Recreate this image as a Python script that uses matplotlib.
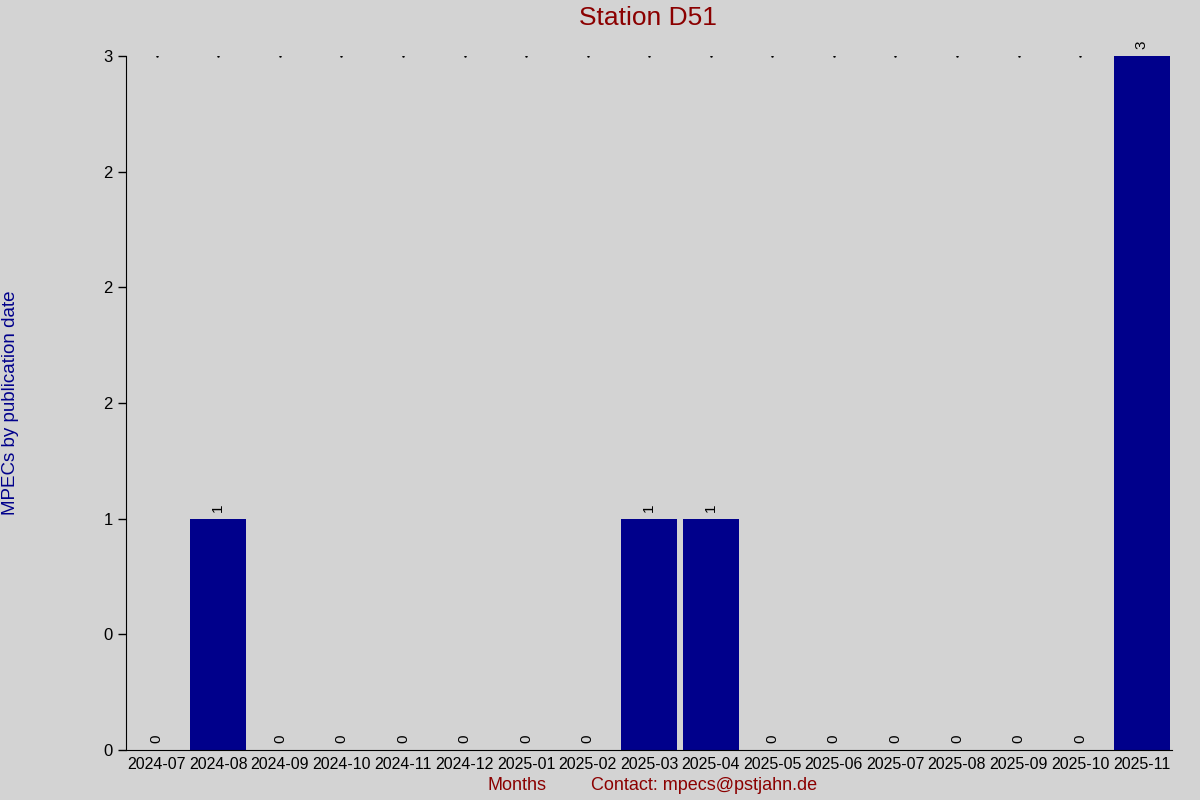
import matplotlib
matplotlib.use('Agg')
import matplotlib.pyplot as plt
import numpy as np

# data
months = ['2024-07', '2024-08', '2024-09', '2024-10', '2024-11', '2024-12',
          '2025-01', '2025-02', '2025-03', '2025-04', '2025-05', '2025-06',
          '2025-07', '2025-08', '2025-09', '2025-10', '2025-11']
counts = [0, 1, 0, 0, 0, 0, 0, 0, 1, 1, 0, 0, 0, 0, 0, 0, 3]
ytick_vals = [0, 0.5, 1, 1.5, 2, 2.5, 3]

plt.rcParams['font.family'] = ['Liberation Sans', 'DejaVu Sans']
bg = '#d3d3d3'

fig = plt.figure(figsize=(12, 8), dpi=100, facecolor=bg)
ax = fig.add_axes([0.105, 0.0625, 0.872, 0.8675], facecolor=bg)

x = np.arange(len(months))
ax.bar(x, counts, width=0.91, color='#00008b')

# tiny dots along the top of the plot
ax.plot(x, [max(counts)] * len(x), linestyle='none', marker='s',
        markersize=0.7, color='black', zorder=0)

for xi, c in zip(x, counts):
    ax.text(xi, c + 0.03, str(c), rotation=90, ha='center', va='bottom',
            fontsize=11)

ax.set_xlim(-0.5, len(months) - 0.5)
ax.set_ylim(0, 3)
ax.set_xticks(x)
ax.set_xticklabels(months, fontsize=11.5)
ax.set_yticks(ytick_vals)
ax.set_yticklabels([str(round(v)) for v in ytick_vals], fontsize=12)
ax.tick_params(axis='x', length=0, pad=5)
ax.tick_params(axis='y', length=6, width=1, direction='out')

for s in ['top', 'right']:
    ax.spines[s].set_visible(False)

fig.text(0.54, 0.978, 'Station D51', ha='center', va='center',
         fontsize=19, color='#8b0000')
fig.text(0.431, 0.0175, 'Months', ha='center', va='center',
         fontsize=13, color='#8b0000')
fig.text(0.587, 0.0175, 'Contact: mpecs@pstjahn.de', ha='center',
         va='center', fontsize=13, color='#8b0000')
fig.text(0.009, 0.497, 'MPECs by publication date', rotation=90,
         ha='center', va='center', fontsize=13.5, color='#00008b')

fig.savefig('out.png', dpi=100, facecolor=bg)
